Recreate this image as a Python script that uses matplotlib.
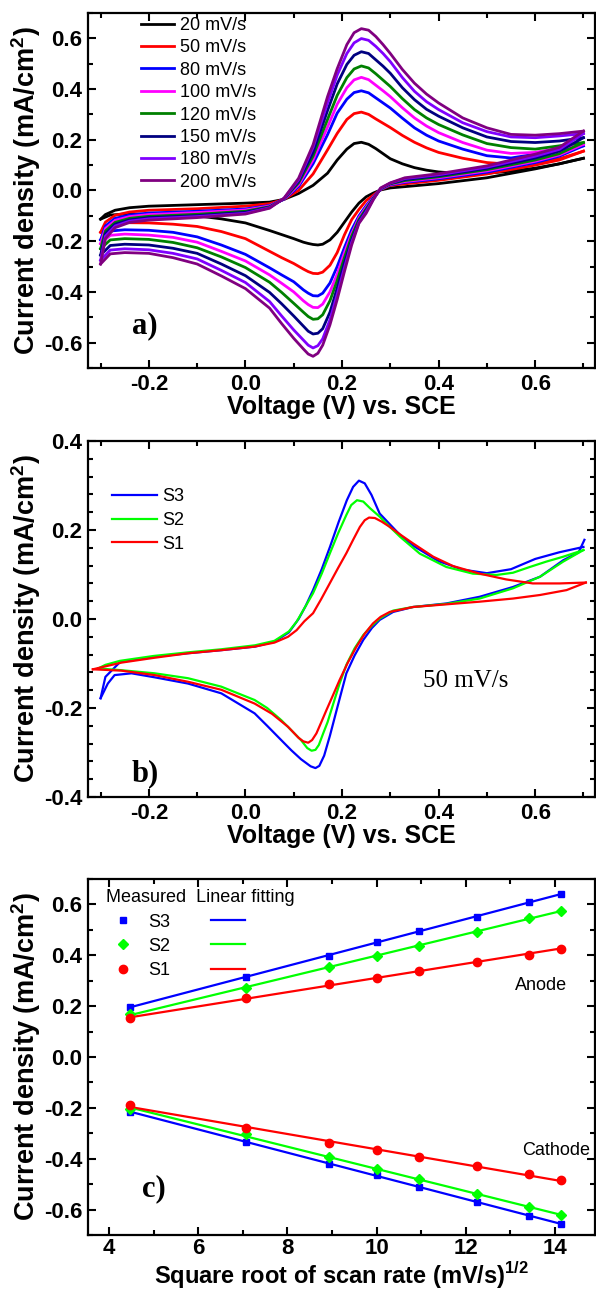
import numpy as np
import matplotlib
matplotlib.use('Agg')
import matplotlib.pyplot as plt
from matplotlib.ticker import MultipleLocator

# ---------- panel a: CV at different scan rates ----------
rates_a = ['20 mV/s', '50 mV/s', '80 mV/s', '100 mV/s', '120 mV/s',
           '150 mV/s', '180 mV/s', '200 mV/s']
colors_a = ['#000000', '#FF0000', '#0000FF', '#FF00FF', '#008000',
            '#000080', '#8000FF', '#800080']

va_fwd = [-0.30, -0.29, -0.27, -0.24, -0.20, -0.10, 0.00, 0.05, 0.08, 0.11, 0.14, 0.17, 0.19, 0.21, 0.225,
          0.24, 0.255, 0.27, 0.285, 0.30, 0.325, 0.35, 0.375, 0.40, 0.45, 0.50, 0.55, 0.60, 0.65, 0.70]
va_rev = [0.70, 0.65, 0.60, 0.50, 0.40, 0.33, 0.30, 0.28, 0.265, 0.25, 0.235, 0.22, 0.205, 0.19, 0.175, 0.16,
          0.15, 0.14, 0.13, 0.12, 0.10, 0.075, 0.05, 0.00, -0.05, -0.10, -0.15, -0.20, -0.25, -0.28, -0.30]

fwd_20 = [-0.113, -0.095, -0.078, -0.068, -0.062, -0.056, -0.050, -0.046, -0.035, -0.012, 0.020, 0.068, 0.120,
          0.163, 0.185, 0.190, 0.182, 0.165, 0.145, 0.125, 0.105, 0.090, 0.080, 0.073, 0.066, 0.068, 0.076,
          0.088, 0.105, 0.127]
fwd_50 = [-0.165, -0.125, -0.098, -0.085, -0.078, -0.072, -0.062, -0.052, -0.035, 0.000, 0.065, 0.160, 0.225,
          0.280, 0.303, 0.309, 0.300, 0.282, 0.265, 0.248, 0.217, 0.190, 0.168, 0.150, 0.127, 0.110, 0.103,
          0.108, 0.125, 0.155]
fwd_80 = [-0.195, -0.140, -0.110, -0.097, -0.089, -0.082, -0.073, -0.059, -0.035, 0.015, 0.105, 0.220, 0.305,
          0.360, 0.386, 0.393, 0.385, 0.365, 0.345, 0.325, 0.285, 0.247, 0.218, 0.195, 0.163, 0.137, 0.128,
          0.143, 0.159, 0.176]
fwd_100 = [-0.210, -0.150, -0.118, -0.103, -0.095, -0.087, -0.077, -0.061, -0.034, 0.022, 0.120, 0.250, 0.340,
           0.405, 0.436, 0.446, 0.437, 0.415, 0.393, 0.370, 0.326, 0.286, 0.254, 0.228, 0.189, 0.159, 0.146,
           0.150, 0.167, 0.182]
fwd_120 = [-0.230, -0.160, -0.126, -0.110, -0.102, -0.094, -0.082, -0.064, -0.033, 0.030, 0.135, 0.280, 0.375,
           0.445, 0.479, 0.491, 0.483, 0.460, 0.435, 0.410, 0.362, 0.319, 0.286, 0.260, 0.219, 0.185, 0.169,
           0.163, 0.176, 0.189]
fwd_150 = [-0.255, -0.170, -0.133, -0.116, -0.107, -0.099, -0.086, -0.066, -0.032, 0.036, 0.150, 0.315, 0.420,
           0.497, 0.533, 0.547, 0.540, 0.515, 0.490, 0.462, 0.405, 0.358, 0.320, 0.293, 0.247, 0.211, 0.193,
           0.189, 0.195, 0.208]
fwd_180 = [-0.275, -0.180, -0.140, -0.121, -0.112, -0.103, -0.090, -0.068, -0.031, 0.042, 0.170, 0.345, 0.455,
           0.540, 0.582, 0.599, 0.592, 0.568, 0.540, 0.508, 0.445, 0.391, 0.350, 0.319, 0.267, 0.232, 0.211,
           0.208, 0.215, 0.224]
fwd_200 = [-0.290, -0.190, -0.147, -0.126, -0.117, -0.107, -0.093, -0.070, -0.030, 0.048, 0.180, 0.370, 0.480,
           0.575, 0.622, 0.638, 0.632, 0.607, 0.575, 0.540, 0.477, 0.423, 0.380, 0.345, 0.286, 0.247, 0.221,
           0.218, 0.224, 0.234]

rev_20 = [0.127, 0.105, 0.085, 0.050, 0.027, 0.015, 0.010, 0.002, -0.010, -0.025, -0.050, -0.085, -0.125,
          -0.165, -0.195, -0.212, -0.215, -0.213, -0.209, -0.204, -0.190, -0.174, -0.158, -0.128, -0.112,
          -0.100, -0.096, -0.094, -0.093, -0.097, -0.113]
rev_50 = [0.155, 0.120, 0.100, 0.065, 0.040, 0.026, 0.020, 0.003, -0.018, -0.040, -0.075, -0.115, -0.175,
          -0.245, -0.295, -0.322, -0.328, -0.327, -0.320, -0.310, -0.288, -0.265, -0.240, -0.190, -0.162,
          -0.142, -0.133, -0.128, -0.127, -0.135, -0.165]
rev_80 = [0.176, 0.135, 0.110, 0.072, 0.046, 0.032, 0.022, 0.004, -0.025, -0.060, -0.100, -0.155, -0.225,
          -0.300, -0.365, -0.405, -0.416, -0.415, -0.405, -0.392, -0.360, -0.333, -0.305, -0.252, -0.215,
          -0.183, -0.165, -0.157, -0.155, -0.160, -0.195]
rev_100 = [0.182, 0.140, 0.115, 0.077, 0.050, 0.035, 0.024, 0.005, -0.027, -0.066, -0.108, -0.170, -0.245,
           -0.330, -0.400, -0.448, -0.462, -0.461, -0.450, -0.435, -0.400, -0.366, -0.333, -0.278, -0.240,
           -0.204, -0.185, -0.176, -0.172, -0.177, -0.210]
rev_120 = [0.189, 0.145, 0.120, 0.082, 0.054, 0.039, 0.026, 0.006, -0.030, -0.072, -0.115, -0.180, -0.265,
           -0.355, -0.435, -0.490, -0.506, -0.508, -0.497, -0.480, -0.445, -0.402, -0.362, -0.304, -0.262,
           -0.226, -0.205, -0.193, -0.190, -0.195, -0.230]
rev_150 = [0.208, 0.155, 0.128, 0.087, 0.058, 0.043, 0.028, 0.007, -0.032, -0.078, -0.122, -0.195, -0.285,
           -0.385, -0.480, -0.545, -0.563, -0.566, -0.555, -0.535, -0.495, -0.447, -0.402, -0.336, -0.290,
           -0.248, -0.228, -0.215, -0.212, -0.217, -0.255]
rev_180 = [0.224, 0.162, 0.135, 0.092, 0.062, 0.047, 0.029, 0.008, -0.034, -0.084, -0.127, -0.205, -0.305,
           -0.410, -0.510, -0.585, -0.612, -0.621, -0.610, -0.590, -0.550, -0.495, -0.438, -0.363, -0.315,
           -0.270, -0.248, -0.234, -0.230, -0.235, -0.275]
rev_200 = [0.234, 0.170, 0.143, 0.097, 0.066, 0.050, 0.030, 0.010, -0.036, -0.090, -0.130, -0.215, -0.320,
           -0.430, -0.530, -0.610, -0.642, -0.654, -0.645, -0.625, -0.583, -0.525, -0.464, -0.387, -0.337,
           -0.290, -0.265, -0.248, -0.245, -0.250, -0.290]

fwd_a = [fwd_20, fwd_50, fwd_80, fwd_100, fwd_120, fwd_150, fwd_180, fwd_200]
rev_a = [rev_20, rev_50, rev_80, rev_100, rev_120, rev_150, rev_180, rev_200]

# ---------- panel b: CV of samples at 50 mV/s ----------
vb_s3_fwd = [-0.300, -0.290, -0.260, -0.190, -0.120, -0.050, 0.020, 0.060, 0.090, 0.110, 0.125, 0.140, 0.158,
             0.175, 0.193, 0.210, 0.223, 0.235, 0.247, 0.261, 0.278, 0.299, 0.320, 0.350, 0.400, 0.450, 0.500,
             0.550, 0.600, 0.650, 0.700]
ib_s3_fwd = [-0.178, -0.130, -0.097, -0.085, -0.077, -0.070, -0.062, -0.051, -0.030, 0.000, 0.030, 0.065, 0.112,
             0.162, 0.218, 0.267, 0.297, 0.311, 0.305, 0.279, 0.237, 0.213, 0.189, 0.163, 0.130, 0.111, 0.103,
             0.112, 0.135, 0.150, 0.162]
vb_s3_rev = [0.702, 0.690, 0.658, 0.610, 0.554, 0.485, 0.416, 0.347, 0.306, 0.278, 0.262, 0.244, 0.226, 0.209,
             0.189, 0.175, 0.163, 0.153, 0.145, 0.135, 0.115, 0.095, 0.074, 0.045, 0.019, -0.050, -0.119, -0.188,
             -0.236, -0.271, -0.285, -0.300]
ib_s3_rev = [0.178, 0.150, 0.132, 0.095, 0.072, 0.050, 0.035, 0.027, 0.016, -0.002, -0.020, -0.047, -0.082,
             -0.122, -0.204, -0.262, -0.307, -0.330, -0.335, -0.331, -0.315, -0.295, -0.272, -0.240, -0.212,
             -0.167, -0.145, -0.131, -0.122, -0.126, -0.145, -0.178]

vb_s2_fwd = [-0.305, -0.290, -0.260, -0.190, -0.120, -0.050, 0.020, 0.060, 0.090, 0.106, 0.122, 0.140, 0.158,
             0.175, 0.192, 0.209, 0.219, 0.231, 0.244, 0.258, 0.278, 0.300, 0.320, 0.361, 0.416, 0.471, 0.520,
             0.554, 0.589, 0.623, 0.658, 0.700]
ib_s2_fwd = [-0.111, -0.103, -0.094, -0.083, -0.075, -0.068, -0.059, -0.049, -0.028, -0.006, 0.024, 0.058, 0.102,
             0.148, 0.193, 0.234, 0.256, 0.267, 0.264, 0.249, 0.230, 0.206, 0.185, 0.147, 0.117, 0.102, 0.099,
             0.104, 0.117, 0.129, 0.140, 0.155]
vb_s2_rev = [0.700, 0.658, 0.610, 0.554, 0.485, 0.416, 0.347, 0.306, 0.278, 0.262, 0.244, 0.226, 0.209, 0.195,
             0.182, 0.170, 0.161, 0.152, 0.145, 0.137, 0.128, 0.115, 0.095, 0.074, 0.045, 0.019, -0.050, -0.119,
             -0.188, -0.257, -0.305]
ib_s2_rev = [0.155, 0.129, 0.095, 0.069, 0.046, 0.034, 0.027, 0.019, 0.001, -0.015, -0.036, -0.066, -0.103,
             -0.145, -0.190, -0.232, -0.257, -0.283, -0.294, -0.296, -0.290, -0.272, -0.250, -0.227, -0.200,
             -0.182, -0.152, -0.133, -0.122, -0.115, -0.111]

vb_s1_fwd = [-0.316, -0.257, -0.188, -0.119, -0.050, 0.019, 0.060, 0.088, 0.106, 0.122, 0.140, 0.157, 0.175,
             0.192, 0.209, 0.223, 0.237, 0.247, 0.256, 0.268, 0.282, 0.299, 0.323, 0.347, 0.389, 0.430, 0.485,
             0.540, 0.595, 0.651, 0.705]
ib_s1_fwd = [-0.113, -0.098, -0.087, -0.077, -0.070, -0.062, -0.053, -0.040, -0.025, -0.005, 0.013, 0.045, 0.081,
             0.115, 0.148, 0.178, 0.207, 0.222, 0.228, 0.227, 0.219, 0.207, 0.188, 0.170, 0.140, 0.119, 0.102,
             0.089, 0.080, 0.080, 0.082]
vb_s1_rev = [0.705, 0.665, 0.610, 0.554, 0.485, 0.416, 0.347, 0.299, 0.280, 0.264, 0.247, 0.230, 0.212, 0.195,
             0.181, 0.168, 0.157, 0.147, 0.138, 0.130, 0.120, 0.110, 0.088, 0.055, 0.019, -0.050, -0.119, -0.188,
             -0.257, -0.316]
ib_s1_rev = [0.082, 0.065, 0.054, 0.046, 0.039, 0.033, 0.027, 0.016, 0.005, -0.010, -0.033, -0.062, -0.098,
             -0.137, -0.172, -0.204, -0.232, -0.257, -0.272, -0.278, -0.275, -0.267, -0.242, -0.213, -0.190,
             -0.159, -0.141, -0.126, -0.116, -0.113]

# ---------- panel c: peak current vs sqrt(scan rate) ----------
scan_rates = [20, 50, 80, 100, 120, 150, 180, 200]
anode_s3 = [0.195, 0.316, 0.398, 0.453, 0.496, 0.551, 0.609, 0.640]
anode_s2 = [0.168, 0.270, 0.355, 0.398, 0.438, 0.492, 0.547, 0.574]
anode_s1 = [0.152, 0.230, 0.285, 0.312, 0.340, 0.375, 0.402, 0.426]
cathode_s3 = [-0.215, -0.333, -0.421, -0.466, -0.513, -0.570, -0.625, -0.655]
cathode_s2 = [-0.205, -0.303, -0.395, -0.440, -0.481, -0.540, -0.590, -0.622]
cathode_s1 = [-0.189, -0.278, -0.338, -0.367, -0.394, -0.430, -0.462, -0.485]

plt.rcParams['font.family'] = 'Liberation Sans'
plt.rcParams['font.weight'] = 'bold'
plt.rcParams['axes.unicode_minus'] = False
plt.rcParams['mathtext.fontset'] = 'custom'
plt.rcParams['mathtext.rm'] = 'Liberation Sans'
plt.rcParams['mathtext.bf'] = 'Liberation Sans:bold'

fig = plt.figure(figsize=(5.96, 12.93), dpi=100)
ax_a = fig.add_axes([0.1477, 0.7154, 0.8507, 0.2746])
ax_b = fig.add_axes([0.1477, 0.3836, 0.8507, 0.2753])
ax_c = fig.add_axes([0.1477, 0.0449, 0.8507, 0.2753])

ylab = 'Current density (mA/cm$^2$)'


def style(ax, xmaj, xmin, ymaj, ymin, pad=4):
    for s in ax.spines.values():
        s.set_linewidth(1.6)
    ax.xaxis.set_major_locator(MultipleLocator(xmaj))
    ax.xaxis.set_minor_locator(MultipleLocator(xmin))
    ax.yaxis.set_major_locator(MultipleLocator(ymaj))
    ax.yaxis.set_minor_locator(MultipleLocator(ymin))
    ax.tick_params(which='both', direction='in', top=True, right=True, width=1.5, labelsize=16, pad=4)
    ax.tick_params(axis='x', which='both', pad=pad)
    ax.tick_params(which='major', length=6)
    ax.tick_params(which='minor', length=3.5)
    ax.set_ylabel(ylab, fontsize=19.5, fontweight='bold', labelpad=1)


# panel a
for v_f, v_r, lab, col in zip(fwd_a, rev_a, rates_a, colors_a):
    ax_a.plot(va_fwd, v_f, color=col, lw=2.0, label=lab)
    ax_a.plot(va_rev, v_r, color=col, lw=2.0)
ax_a.set_xlim(-0.326, 0.724)
ax_a.set_ylim(-0.7, 0.7)
style(ax_a, 0.2, 0.1, 0.2, 0.1)
ax_a.xaxis.set_major_formatter(plt.FormatStrFormatter('%.1f'))
ax_a.yaxis.set_major_formatter(plt.FormatStrFormatter('%.1f'))
ax_a.set_xlabel('Voltage (V) vs. SCE', fontsize=18, fontweight='bold', labelpad=0)
ax_a.legend(loc='upper left', bbox_to_anchor=(0.105, 0.989), frameon=False, borderpad=0, borderaxespad=0,
            prop={'size': 13, 'weight': 'normal'}, handlelength=1.8, handletextpad=0.35, labelspacing=0.3)
ax_a.text(0.112, 0.12, 'a)', transform=ax_a.transAxes, ha='center', va='center',
          family='Liberation Serif', fontweight='bold', fontsize=22)

# panel b
ax_b.plot(vb_s3_fwd, ib_s3_fwd, color='#0000FF', lw=1.6, label='S3')
ax_b.plot(vb_s3_rev, ib_s3_rev, color='#0000FF', lw=1.6)
ax_b.plot(vb_s2_fwd, ib_s2_fwd, color='#00FF00', lw=1.6, label='S2')
ax_b.plot(vb_s2_rev, ib_s2_rev, color='#00FF00', lw=1.6)
ax_b.plot(vb_s1_fwd, ib_s1_fwd, color='#FF0000', lw=1.6, label='S1')
ax_b.plot(vb_s1_rev, ib_s1_rev, color='#FF0000', lw=1.6)
ax_b.set_xlim(-0.326, 0.724)
ax_b.set_ylim(-0.4, 0.4)
style(ax_b, 0.2, 0.1, 0.2, 0.04)
ax_b.xaxis.set_major_formatter(plt.FormatStrFormatter('%.1f'))
ax_b.yaxis.set_major_formatter(plt.FormatStrFormatter('%.1f'))
ax_b.set_xlabel('Voltage (V) vs. SCE', fontsize=18, fontweight='bold', labelpad=0)
ax_b.legend(loc='upper left', bbox_to_anchor=(0.047, 0.867), frameon=False, borderpad=0, borderaxespad=0,
            prop={'size': 13, 'weight': 'normal'}, handlelength=2.5, handletextpad=0.3, labelspacing=0.37)
ax_b.text(0.745, 0.325, '50 mV/s', transform=ax_b.transAxes, ha='center', va='center',
          family='Liberation Serif', fontweight='normal', fontsize=18)
ax_b.text(0.112, 0.065, 'b)', transform=ax_b.transAxes, ha='center', va='center',
          family='Liberation Serif', fontweight='bold', fontsize=22)

# panel c
xs = np.sqrt(scan_rates)
series_c = [(anode_s3, cathode_s3, '#0000FF', 's', 5, 'S3'),
            (anode_s2, cathode_s2, '#00FF00', 'D', 5, 'S2'),
            (anode_s1, cathode_s1, '#FF0000', 'o', 6, 'S1')]
marker_handles = []
line_handles = []
for an, ca, col, mk, ms, lab in series_c:
    for ys in (an, ca):
        k, b = np.polyfit(xs, ys, 1)
        ln, = ax_c.plot(xs, k * xs + b, color=col, lw=1.6, zorder=2)
        pt, = ax_c.plot(xs, ys, ls='none', marker=mk, ms=ms, color=col, zorder=3)
    marker_handles.append(pt)
    line_handles.append(ln)
ax_c.set_xlim(3.53, 14.9)
ax_c.set_ylim(-0.7, 0.7)
style(ax_c, 2, 1, 0.2, 0.1, pad=2.5)
ax_c.yaxis.set_major_formatter(plt.FormatStrFormatter('%.1f'))
ax_c.set_xlabel('Square root of scan rate (mV/s)$^{1/2}$', fontsize=17, fontweight='bold', labelpad=0)
leg = ax_c.legend(marker_handles + line_handles, ['S3', 'S2', 'S1', '', '', ''], ncol=2,
                  title='Measured  Linear fitting', title_fontproperties={'size': 13, 'weight': 'normal'},
                  alignment='left', loc='upper left', bbox_to_anchor=(0.036, 0.971), frameon=False,
                  borderpad=0, borderaxespad=0, prop={'size': 13, 'weight': 'normal'},
                  handlelength=1.85, handletextpad=0.45, labelspacing=0.4, columnspacing=2.3)
ax_c.text(0.945, 0.70, 'Anode', transform=ax_c.transAxes, ha='right', va='center',
          fontsize=13, fontweight='normal')
ax_c.text(0.99, 0.237, 'Cathode', transform=ax_c.transAxes, ha='right', va='center',
          fontsize=13, fontweight='normal')
ax_c.text(0.13, 0.13, 'c)', transform=ax_c.transAxes, ha='center', va='center',
          family='Liberation Serif', fontweight='bold', fontsize=22)

fig.savefig('out.png', dpi=100)
